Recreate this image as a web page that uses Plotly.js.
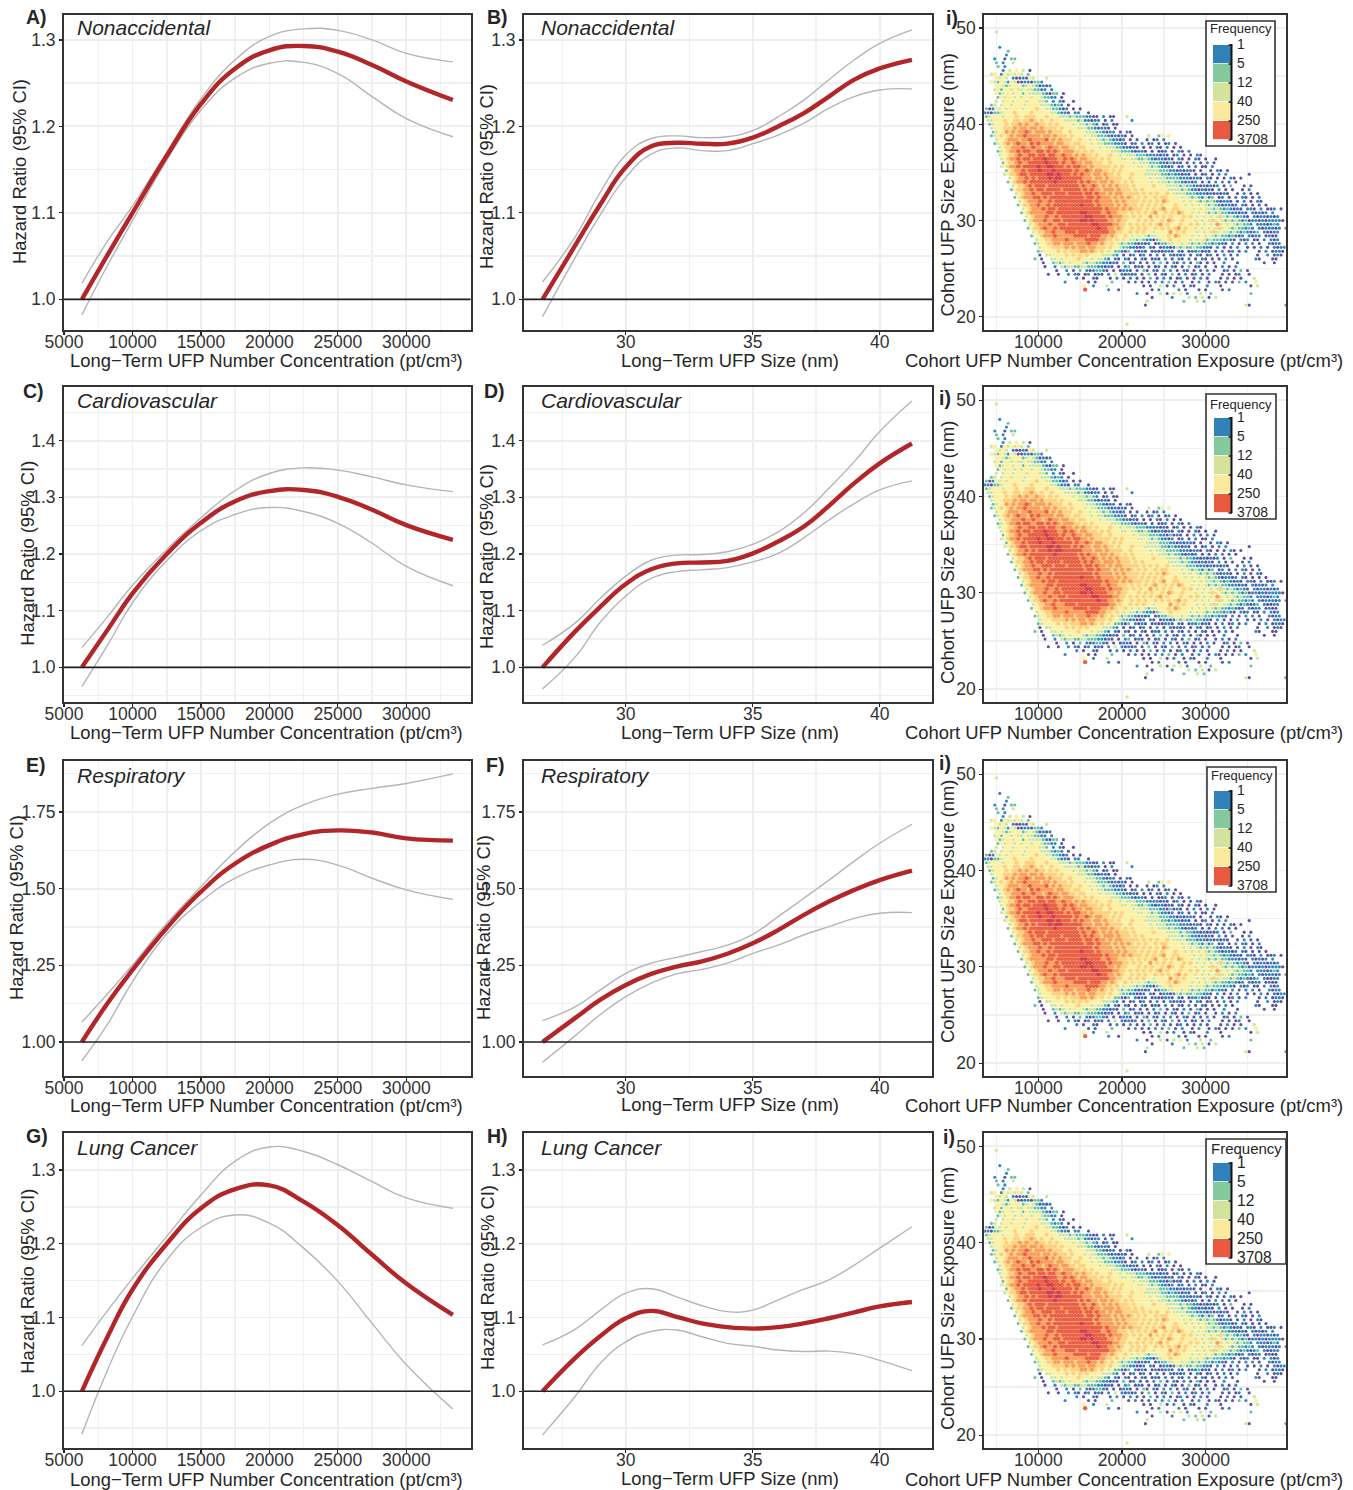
<!DOCTYPE html>
<html>
<head>
<meta charset="utf-8">
<script src="https://cdn.plot.ly/plotly-3.0.1.min.js"></script>
<style>html,body{margin:0;padding:0;background:#fff}</style>
</head>
<body>
<div id="chart" style="width:1353px;height:1490px"></div>
<script>
// ---------- curve data ----------
const numberX = [6300,8200,10000,12500,15000,17500,20000,22500,25000,27500,30000,33400];
const sizeX = [26.72,28,29,30,31,32,33,34,35,36,37,38,39,40,41.27];

const aCenter = [1.0,1.052,1.1,1.166,1.226,1.267,1.288,1.293,1.2865,1.271,1.252,1.2305];
const aUpper = [1.0185,1.068,1.108,1.170,1.232,1.277,1.304,1.3127,1.311,1.30,1.2845,1.2746];
const aLower = [0.982,1.04,1.091,1.161,1.219,1.256,1.273,1.274,1.261,1.2345,1.209,1.188];

const bCenter = [1.0,1.062,1.11,1.153,1.177,1.181,1.18,1.18,1.187,1.2,1.215,1.2345,1.254,1.267,1.277];
const bUpper = [1.02,1.072,1.124,1.167,1.186,1.189,1.187,1.188,1.195,1.211,1.23,1.254,1.277,1.296,1.3116];
const bLower = [0.98,1.048,1.098,1.141,1.168,1.175,1.172,1.172,1.18,1.19,1.2035,1.221,1.2345,1.242,1.2434];

const cCenter = [1.0,1.067,1.1306,1.2,1.255,1.293,1.311,1.313,1.301,1.278,1.251,1.225];
const cUpper = [1.035,1.09,1.145,1.208,1.264,1.312,1.342,1.352,1.348,1.336,1.322,1.31];
const cLower = [0.966,1.04,1.114,1.188,1.241,1.27,1.282,1.275,1.254,1.219,1.178,1.144];

const dCenter = [1.0,1.063,1.107,1.147,1.173,1.1835,1.185,1.188,1.201,1.222,1.248,1.285,1.325,1.36,1.395];
const dUpper = [1.039,1.078,1.122,1.161,1.189,1.198,1.199,1.204,1.217,1.239,1.272,1.316,1.363,1.416,1.47];
const dLower = [0.962,1.018,1.08,1.126,1.157,1.169,1.172,1.176,1.186,1.201,1.228,1.26,1.289,1.313,1.329];

const eCenter = [1.0,1.128,1.235,1.372,1.49,1.582,1.642,1.678,1.69,1.683,1.664,1.6565];
const eUpper = [1.065,1.158,1.251,1.387,1.507,1.621,1.713,1.773,1.808,1.827,1.843,1.874];
const eLower = [0.939,1.06,1.197,1.352,1.458,1.534,1.577,1.596,1.577,1.534,1.496,1.465];

const fCenter = [1.0,1.078,1.138,1.186,1.222,1.246,1.263,1.288,1.322,1.365,1.414,1.458,1.496,1.528,1.559];
const fUpper = [1.07,1.115,1.17,1.224,1.257,1.276,1.295,1.316,1.351,1.409,1.468,1.528,1.59,1.648,1.71];
const fLower = [0.934,1.02,1.09,1.148,1.192,1.222,1.237,1.257,1.289,1.316,1.349,1.376,1.403,1.42,1.422];

const gCenter = [1.0,1.075,1.138,1.2,1.248,1.274,1.279,1.257,1.225,1.185,1.146,1.1035];
const gUpper = [1.062,1.11,1.153,1.21,1.266,1.312,1.331,1.325,1.307,1.284,1.262,1.248];
const gLower = [0.942,1.03,1.101,1.178,1.222,1.239,1.228,1.194,1.149,1.092,1.036,0.976];

const hCenter = [1.0,1.045,1.075,1.099,1.109,1.101,1.092,1.087,1.085,1.087,1.092,1.099,1.107,1.115,1.121];
const hUpper = [1.063,1.084,1.11,1.133,1.139,1.128,1.116,1.108,1.11,1.124,1.138,1.151,1.171,1.194,1.223];
const hLower = [0.941,0.993,1.038,1.067,1.081,1.083,1.074,1.065,1.061,1.056,1.054,1.0545,1.051,1.042,1.028];

const panelLetters = ["A)","B)","C)","D)","E)","F)","G)","H)"];
const causeNames = ["Nonaccidental","Cardiovascular","Respiratory","Lung Cancer"];
const legendLabels = ["1","5","12","40","250","3708"];
const legendColors = ["#2f81ba","#84c99e","#d4e39b","#fbe99c","#e8593f"];

// ---------- hexbin density ----------
// one string per row, from y = 50 downward; '.' empty, 1..9 colour class
const gridX0 = 3600, gridDx = 400, gridY0 = 50, gridDy = 0.4;
const densityColors = {1:"#5e4fa2",2:"#3288bd",3:"#66c2a5",4:"#cde79c",5:"#fbf0a3",6:"#fdd180",7:"#fa9e5b",8:"#ea6044",9:"#cf3f4c"};
const densitySizes = {1:3.1,2:3.1,3:3.1,4:3.4,5:4.3,6:4.3,7:4.3,8:4.3,9:4.3};
const densityRows = [
"",
"...4",
"",
"",
"",
"....2",
".......3",
"......2",
"...2..1.33",
"...3.2..4",
"....3.2",
".....2.4.5.4.1",
"..45.2545454.3",
"...5454.2112154...4",
"..5435425411221332",
"...55434555345431212",
"...4535545445443322.2",
"...5345545535444432133.1",
"....354554545545543322.1",
"...4.45545554555443.2.21..1",
"..34.4554555455554443232.1",
"3125454555545556554433212.1.1",
"12133455565555655555443221.22..1",
"3455545556556665556555444343332211.2.11...4",
".4455565566566765655655544443422122.1.2.....2",
".345556566767667665656555545443432.12.11",
"..455566676776776766665655554443321221.1",
"..3455767677876777676665565555444332122.1.21",
"..34565676778777767767666565554544333212121.1....4..35.5",
"...455677767787777867676665565545443432212.1.1..1.12.2",
"...3456767877687877776776656655545443332221.12.2.12.1.12.1",
"....456677787787767877677665665555454443322121.1.1.21.2.1.1",
"....345677878877887878767776656565555544433321221.1.112.1.21.2",
"....455667877887887887787767676656555655454443332222121.12.1.1.21",
".....4567787887888988877878767766656565554454433432122121.21.1.21.1..1",
".....356678778888898887877877677666556555555454443332213121.1.2.1.2.1",
".....4567787888898899888787887767666665656555544543432212.12.1.2.11.2",
"......356778788898889888887877876776656565555555444433322121221.1..1.21.1",
"......45667887888889989888787877677676656555655544444332322121.1.12.1.2.2......1",
".......4567787878889899888888777677676666556555554544433332221221.21.1.1.21.1",
".......356778788888889888888787877677676656565555545444343321212.1.1.2.2.1.1",
"........45667878887888888888787787676767666565555565554444343322121212.1.3...1.1",
"........3566778788788887888887878776777676665656555555544443432212121.2.1.1..1.2",
".........4567787788878887888878878776767766666565656556544443332221212121..1.2.1.1",
".........356777887878888888888788787776767676565655656655554543432423.12.1.2.21.1.2",
"..........4567778778788888888888787777676766665656565765555454543434321221.1.2.1.21",
"..........356677877878888888898887877776767666565656565556554545454343212212.21.1.1.1",
"...........456777878878888888888888787776767666565656755665555454544343232121.221.2.112.1.2",
"...........35677777887888888899888877877666565656567556565765545454343433222121.21212.2",
"............4567778778788888889988887877766565655756565655565654545454643432321.21221212",
"............356777877887888889989888877676655565656556576556555454546454343432312212122221",
".............4567778778878888888998888776656565656567565556556565454574545434332.2221232",
".............35667877878888888888898877676556565655656565675655454545464543433232.2122212.1",
"..............45667787778887888888888776655656565545555756565554545464544343232123.21122",
"..............3556777877777888878887767655654545434455565765554545454343323212.2122.1211",
"...............455667777877777888877665654544343221345565555545454343332321.212.11.2.212",
"...............34556677677767778776765654343321212.1233445545434343323221.2.1.2.2.1..2122",
"................45556666767677677666565543322112.21.1221243433433221.2.1.1.2..1.1.2.1.2122",
"................3455556565666776765654533213.2121.1211221.21.1223121.1.2.12.1.2...1.2.1221",
"................1.4455556565656555544432.1.12.12.1.2.1.21212.1.21.12.1.2.1.2.....1..2.121",
"...............3.1..445455556555454432.21.21.1.21.121.2.1.21.2.1.21.1.1.2.1......21...11",
".................1..34345455543443322121.3.12.1.1.2.3.1.21.2.1.31.1.1..2...1.......1..1",
"..................1..2.4344334433322121.1.23.121.1.12.1.21.1.3.12.1..1.2.1.2",
".....................1..2.1.3.2123321.1.1221.1.31.21.2.2.1.21.1.1.2.1..12.1.3.1",
"...................1..1..2.21.12.121.2.4.21212.1.3.1.21.3.1.2.12.1.2...1.1.12..1",
"...........................2.1..21...1.2.1.2.1.1.3.1.2.1.12.1.1.2.1...1.2.1.1...4",
"........................2......1.1....3....1.2.1.1.2.2.3.1.2..1.2..1.21.1.1.3.2..5",
".............................5..2...4..........1.1..4.1.2..1.21...2...1........1.4",
"..............................8......2..1.........1.2.....2.1...1.1....1.2",
".............................................2..1...4.1.4.5.2...4..3...........3",
"..................................................1.....2....4.3.4.1.4",
"................................................4..........3...4.3",
"................................................1.............................41..........1",
"",
"",
"",
"",
"..........................................4"
];

// ---------- layout geometry (pixels on the 1353x1490 page) ----------
const W = 1353, H = 1490;
const colEdges = [[64,470.5],[524,932],[984.3,1285.7]];
const rowEdges = [[15,329.7],[387,702.3],[761,1076.3],[1133.3,1448.3]];
const hrRanges = [[0.9649,1.3288],[0.9383,1.4947],[0.8883,1.9162],[0.9228,1.3496]];
const hrDtick = [0.1,0.1,0.25,0.1];
const hrFormat = [".1f",".1f",".2f",".1f"];
const FONT = "Liberation Sans, Arial, sans-serif";
const tickColor = "#333333", gridColor = "#eeeeee";
const TITLE = 18.4;
const px = x => x / W, py = y => 1 - y / H;

const traces = [], annotations = [], shapes = [], layout = {};
function text(t, x, y, size, o) {
  annotations.push(Object.assign({
    text: t, x: px(x), y: py(y), xref: "paper", yref: "paper", showarrow: false,
    xanchor: "center", yanchor: "middle", font: {family: FONT, size: size, color: "#262626"}
  }, o || {}));
}
function makeAxes(idx, col, row, xOpt, yOpt) {
  const common = {showline: true, linecolor: "#333", linewidth: 2, mirror: true, ticks: "outside",
    ticklen: 3, tickwidth: 1.2, tickcolor: "#222", zeroline: false, showgrid: true, gridcolor: gridColor,
    gridwidth: 1.8, tickfont: {family: FONT, size: 17.5, color: tickColor}, automargin: false};
  const s = idx === 1 ? "" : String(idx);
  layout["xaxis" + s] = Object.assign({}, common, xOpt, {domain: [px(colEdges[col][0]), px(colEdges[col][1])], anchor: "y" + s, ticklabelstandoff: -8});
  layout["yaxis" + s] = Object.assign({}, common, yOpt, {
    domain: [py(rowEdges[row][1]), py(rowEdges[row][0])], anchor: "x" + s});
  return s;
}
function minor(dtick, tick0) {
  return {dtick: dtick, tick0: tick0, showgrid: true, gridcolor: "#f0f0f0", gridwidth: 1.5, ticks: ""};
}

const numberAxis = {range: [4995, 34687], tick0: 5000, dtick: 5000, tickformat: "d", minor: minor(2500, 5000)};
const sizeAxis = {range: [25.99, 42.06], tick0: 30, dtick: 5, minor: minor(2.5, 30)};
const cohortXAxis = {range: [3550, 39560], tick0: 10000, dtick: 10000, tickformat: "d", minor: minor(5000, 10000)};
const cohortYAxis = {range: [18.64, 51.36], tick0: 20, dtick: 10, minor: minor(5, 20)};

const curves = [
  [aCenter,aUpper,aLower],[bCenter,bUpper,bLower],
  [cCenter,cUpper,cLower],[dCenter,dUpper,dLower],
  [eCenter,eUpper,eLower],[fCenter,fUpper,fLower],
  [gCenter,gUpper,gLower],[hCenter,hUpper,hLower]
];

// hazard-ratio panels
const letterPos = [[36.5,17],[497,17],[33.5,391],[494,391],[35.5,765],[495,765],[37,1136],[497,1136]];
const yTitlePos = [[19,172],[487,177],[26.7,553],[486,557],[16,908],[483,928],[26.7,1281],[487,1278]];
const xTitleY = [[360,360],[733,732],[1105,1104],[1479,1478]];
const causeY = [28,401,776,1147];
const causeX = [74.5,538.5];
const xTitles = ["Long\u2212Term UFP Number Concentration (pt/cm\u00b3)","Long\u2212Term UFP Size (nm)"];
const xTitleCx = [266,730];
let n = 0, m = 0;
for (let row = 0; row < 4; row++) {
  for (let col = 0; col < 2; col++) {
    n++;
    const yAxis = {range: hrRanges[row], tick0: 1, dtick: hrDtick[row], tickformat: hrFormat[row], minor: minor(hrDtick[row] / 2, 1)};
    const s = makeAxes(n, col, row, col === 0 ? numberAxis : sizeAxis, yAxis);
    const xs = col === 0 ? numberX : sizeX;
    const c = curves[m];
    const base = {x: xs, xaxis: "x" + s, yaxis: "y" + s, mode: "lines", showlegend: false, hoverinfo: "skip"};
    traces.push(Object.assign({}, base, {y: c[1], name: "Upper 95% CI", line: {color: "#b5b5b5", width: 1.4, shape: "spline", smoothing: 1.3}}));
    traces.push(Object.assign({}, base, {y: c[2], name: "Lower 95% CI", line: {color: "#b5b5b5", width: 1.4, shape: "spline", smoothing: 1.3}}));
    traces.push(Object.assign({}, base, {y: c[0], name: "Hazard ratio", line: {color: "#b2262a", width: 4.4, shape: "spline", smoothing: 1.3}}));
    shapes.push({type: "line", xref: "x" + s + " domain", yref: "y" + s, x0: 0, x1: 1, y0: 1, y1: 1, line: {color: "#222", width: 1.6}, layer: "above"});
    text("<b>" + panelLetters[m] + "</b>", letterPos[m][0], letterPos[m][1], 19.5);
    text("<i>" + causeNames[row] + "</i>", causeX[col], causeY[row], 21, {xanchor: "left"});
    text(xTitles[col], xTitleCx[col], xTitleY[row][col], TITLE);
    text("Hazard Ratio (95% CI)", yTitlePos[m][0], yTitlePos[m][1], TITLE, {textangle: -90});
    m++;
  }
  // hexbin panels
  n++;
  const s = makeAxes(n, 2, row, cohortXAxis, cohortYAxis);
  for (let k = 1; k <= 9; k++) {
    const xs = [], ys = [];
    densityRows.forEach((str, r) => {
      for (let i = 0; i < str.length; i++) {
        if (str[i] === String(k)) {
          xs.push(gridX0 + i * gridDx + (r % 2 ? gridDx / 2 : 0));
          ys.push(gridY0 - r * gridDy);
        }
      }
    });
    traces.push({type: "scatter", mode: "markers", x: xs, y: ys, xaxis: "x" + s, yaxis: "y" + s, showlegend: false,
      hoverinfo: "skip", marker: {color: densityColors[k], size: densitySizes[k], line: {width: 0}}});
  }
  // panel "i)" marker, axis titles
  const iPos = [[952,18],[945,398],[945,763],[949,1137]][row];
  text("<b>i)</b>", iPos[0], iPos[1], 19.5);
  text("Cohort UFP Number Concentration Exposure (pt/cm\u00b3)", 1124, xTitleY[row][0], TITLE);
  text("Cohort UFP Size Exposure (nm)", 947, [185.5, 553, 912, 1299][row], TITLE, {textangle: -90});

  // Frequency inset
  const L = [
    {l:1206,r:1275,t:21,b:146,sl:1213,sr:1231,st:45,title:29,tf:13,lf:13.9,tx:1235},
    {l:1206,r:1276,t:394,b:519,sl:1214,sr:1231,st:418,title:404,tf:13,lf:13.9,tx:1234.5},
    {l:1207,r:1276,t:767,b:892,sl:1214,sr:1231,st:791,title:776,tf:13,lf:13.9,tx:1235},
    {l:1206,r:1286,t:1139,b:1264,sl:1213,sr:1231,st:1163,title:1148,tf:15,lf:15.6,tx:1235}
  ][row];
  shapes.push({type:"rect",xref:"paper",yref:"paper",x0:px(L.l),x1:px(L.r),y0:py(L.b),y1:py(L.t),fillcolor:"#fff",line:{color:"#333",width:1.6},layer:"above"});
  for (let i = 0; i < 5; i++) {
    shapes.push({type:"rect",xref:"paper",yref:"paper",x0:px(L.sl),x1:px(L.sr),y0:py(L.st+19*i+18.2),y1:py(L.st+19*i),fillcolor:legendColors[i],line:{width:0},layer:"above"});
  }
  shapes.push({type:"line",xref:"paper",yref:"paper",x0:px(L.sr+0.5),x1:px(L.sr+0.5),y0:py(L.st-1),y1:py(L.st+95),line:{color:"#111",width:2},layer:"above"});
  for (let i = 0; i < 6; i++) {
    shapes.push({type:"line",xref:"paper",yref:"paper",x0:px(L.sr-2.5),x1:px(L.sr+1),y0:py(L.st+19*i),y1:py(L.st+19*i),line:{color:"#111",width:1.4},layer:"above"});
    text(legendLabels[i], L.tx, L.st - 1 + 19 * i, L.lf, {xanchor: "left"});
  }
  text("Frequency", (L.l + L.r) / 2, L.title, L.tf);
}

Object.assign(layout, {
  width: W, height: H, margin: {l: 0, r: 0, t: 0, b: 0, pad: 0}, autosize: false,
  paper_bgcolor: "#fff", plot_bgcolor: "#fff", showlegend: false, hovermode: false,
  annotations: annotations, shapes: shapes, font: {family: FONT}
});
Plotly.newPlot("chart", traces, layout, {displayModeBar: false, staticPlot: true});
</script>
</body>
</html>
